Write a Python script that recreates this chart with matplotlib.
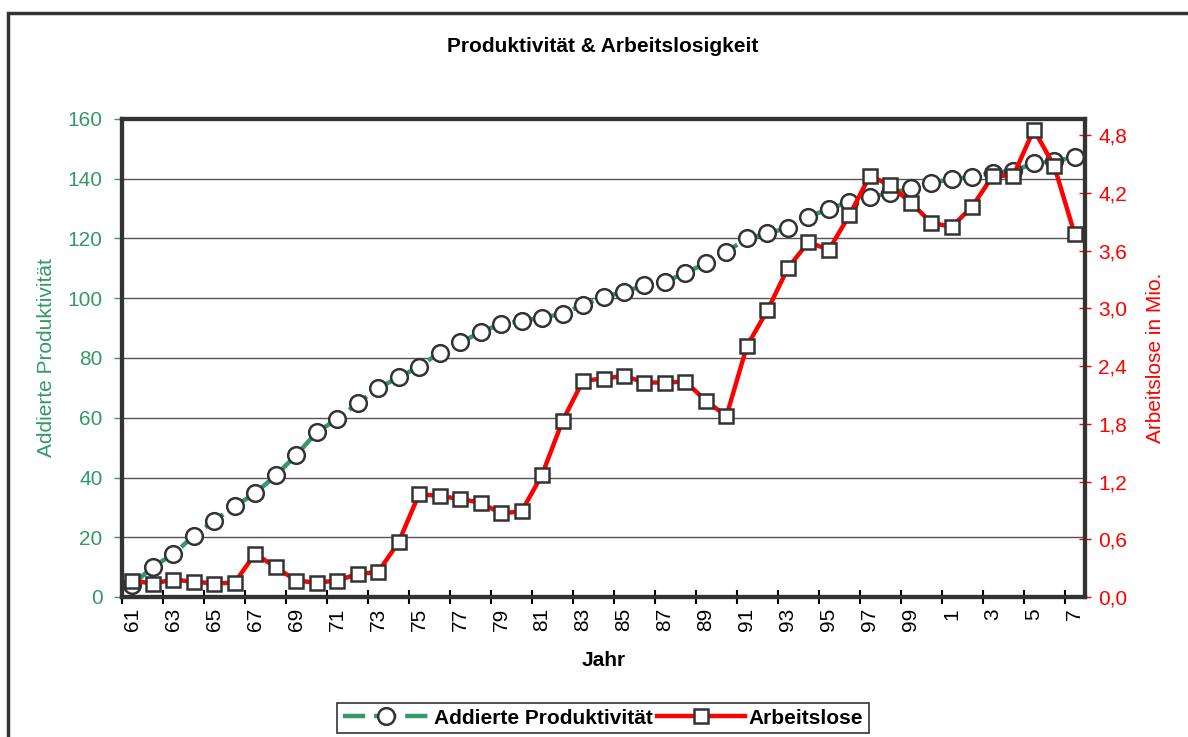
import numpy as np
import matplotlib.pyplot as plt
from matplotlib.patches import Rectangle

plt.rcParams['font.family'] = ['Liberation Sans', 'DejaVu Sans']

# data
jahre = [str(j % 100) if j >= 2000 else str(j - 1900) for j in range(1961, 2008)]
produktivitaet = [4, 10.1, 14.3, 20.5, 25.5, 30.4, 34.7, 40.7, 47.5, 55.1,
                  59.6, 64.8, 69.9, 73.5, 77.1, 81.8, 85.2, 88.6, 91.5, 92.4,
                  93.5, 94.8, 97.8, 100.3, 102.2, 104.3, 105.5, 108.5, 111.7, 115.6,
                  120.0, 121.7, 123.6, 127.3, 129.9, 132.3, 134.0, 135.1, 136.8, 138.7,
                  139.8, 140.7, 142.0, 142.6, 145.2, 145.9, 147.2]
arbeitslose = [0.17, 0.14, 0.18, 0.16, 0.14, 0.15, 0.45, 0.31, 0.17, 0.15,
               0.17, 0.24, 0.26, 0.57, 1.07, 1.05, 1.02, 0.98, 0.87, 0.89,
               1.27, 1.83, 2.25, 2.27, 2.30, 2.23, 2.23, 2.24, 2.04, 1.88,
               2.61, 2.98, 3.42, 3.69, 3.61, 3.97, 4.38, 4.28, 4.10, 3.89,
               3.85, 4.06, 4.38, 4.38, 4.86, 4.48, 3.77]

gruen = '#339966'
rot = '#ff0000'
dunkel = '#333333'
fs = 15

fig = plt.figure(figsize=(11.88, 7.37), dpi=100)
ax = fig.add_axes([122/1188, 1-597/737, (1085-122)/1188, (597-119)/737])
ax2 = ax.twinx()

x = np.arange(len(jahre))

# outer frame
fig.patches.append(Rectangle((8/1188, -0.1), 1.2, 1-13/737+0.1, transform=fig.transFigure,
                             fill=False, edgecolor=dunkel, lw=2.5, zorder=0))

for v in range(20, 160, 20):
    ax.axhline(v, color='#555555', lw=1, zorder=0)

l1, = ax.plot(x, produktivitaet, color=gruen, lw=3.2, linestyle=(0, (5, 2)),
              marker='o', ms=12, mfc='white', mec=dunkel, mew=1.8,
              label='Addierte Produktivität', zorder=3)
l2, = ax2.plot(x, arbeitslose, color=rot, lw=3.2,
               marker='s', ms=10, mfc='white', mec=dunkel, mew=1.8,
               label='Arbeitslose', zorder=3)

ax.set_xlim(-0.5, len(jahre) - 0.5)
ax.set_ylim(0, 160)
ax2.set_ylim(0, 4.97)

ax.set_yticks(range(0, 161, 20))
ax.tick_params(axis='y', colors=gruen, labelsize=fs, length=6, width=1, direction='out', pad=8)
for t in ax.get_yticklines():
    t.set_color('black')
ax2.set_yticks(np.arange(0, 4.81, 0.6))
ax2.set_yticklabels([f'{v:.1f}'.replace('.', ',') for v in np.arange(0, 4.81, 0.6)])
ax2.tick_params(axis='y', colors=rot, labelsize=fs, length=9, width=1, direction='inout', pad=5)
for t in ax2.get_yticklines():
    t.set_color('black')

ax.set_xticks(np.arange(-0.5, len(jahre) - 1, 2))
ax.set_xticklabels([])
ax.set_xticks(x[::2], minor=True)
ax.set_xticklabels(jahre[::2], minor=True, rotation=90, fontsize=fs)
ax.tick_params(axis='x', which='major', direction='inout', length=10, width=1.5)
ax.tick_params(axis='x', which='minor', length=0, pad=8)

for a in (ax, ax2):
    for s in a.spines.values():
        s.set_color(dunkel)
        s.set_linewidth(3)

ax.set_ylabel('Addierte Produktivität', color=gruen, fontsize=fs)
ax.yaxis.set_label_coords((56-122)/963, 0.5)
ax2.set_ylabel('Arbeitslose in Mio.', color=rot, fontsize=fs, rotation=90)
ax2.yaxis.set_label_coords((1146-122)/963, 0.5)
ax.set_xlabel('Jahr', fontsize=fs, fontweight='bold')
ax.xaxis.set_label_coords(0.5, (597-651)/478)

fig.text(603/1188, 1-47/737, 'Produktivität & Arbeitslosigkeit', ha='center', va='center',
         fontsize=fs, fontweight='bold')

leg = fig.legend(handles=[l1, l2], loc='center', bbox_to_anchor=(603/1188, 1-718/737),
                 ncol=2, frameon=True, fancybox=False, edgecolor='black',
                 prop={'weight': 'bold', 'size': fs}, handlelength=4.2,
                 columnspacing=0.2, handletextpad=0.2, borderpad=0.25)
leg.get_frame().set_linewidth(1.2)

fig.savefig('out.png', dpi=100)
